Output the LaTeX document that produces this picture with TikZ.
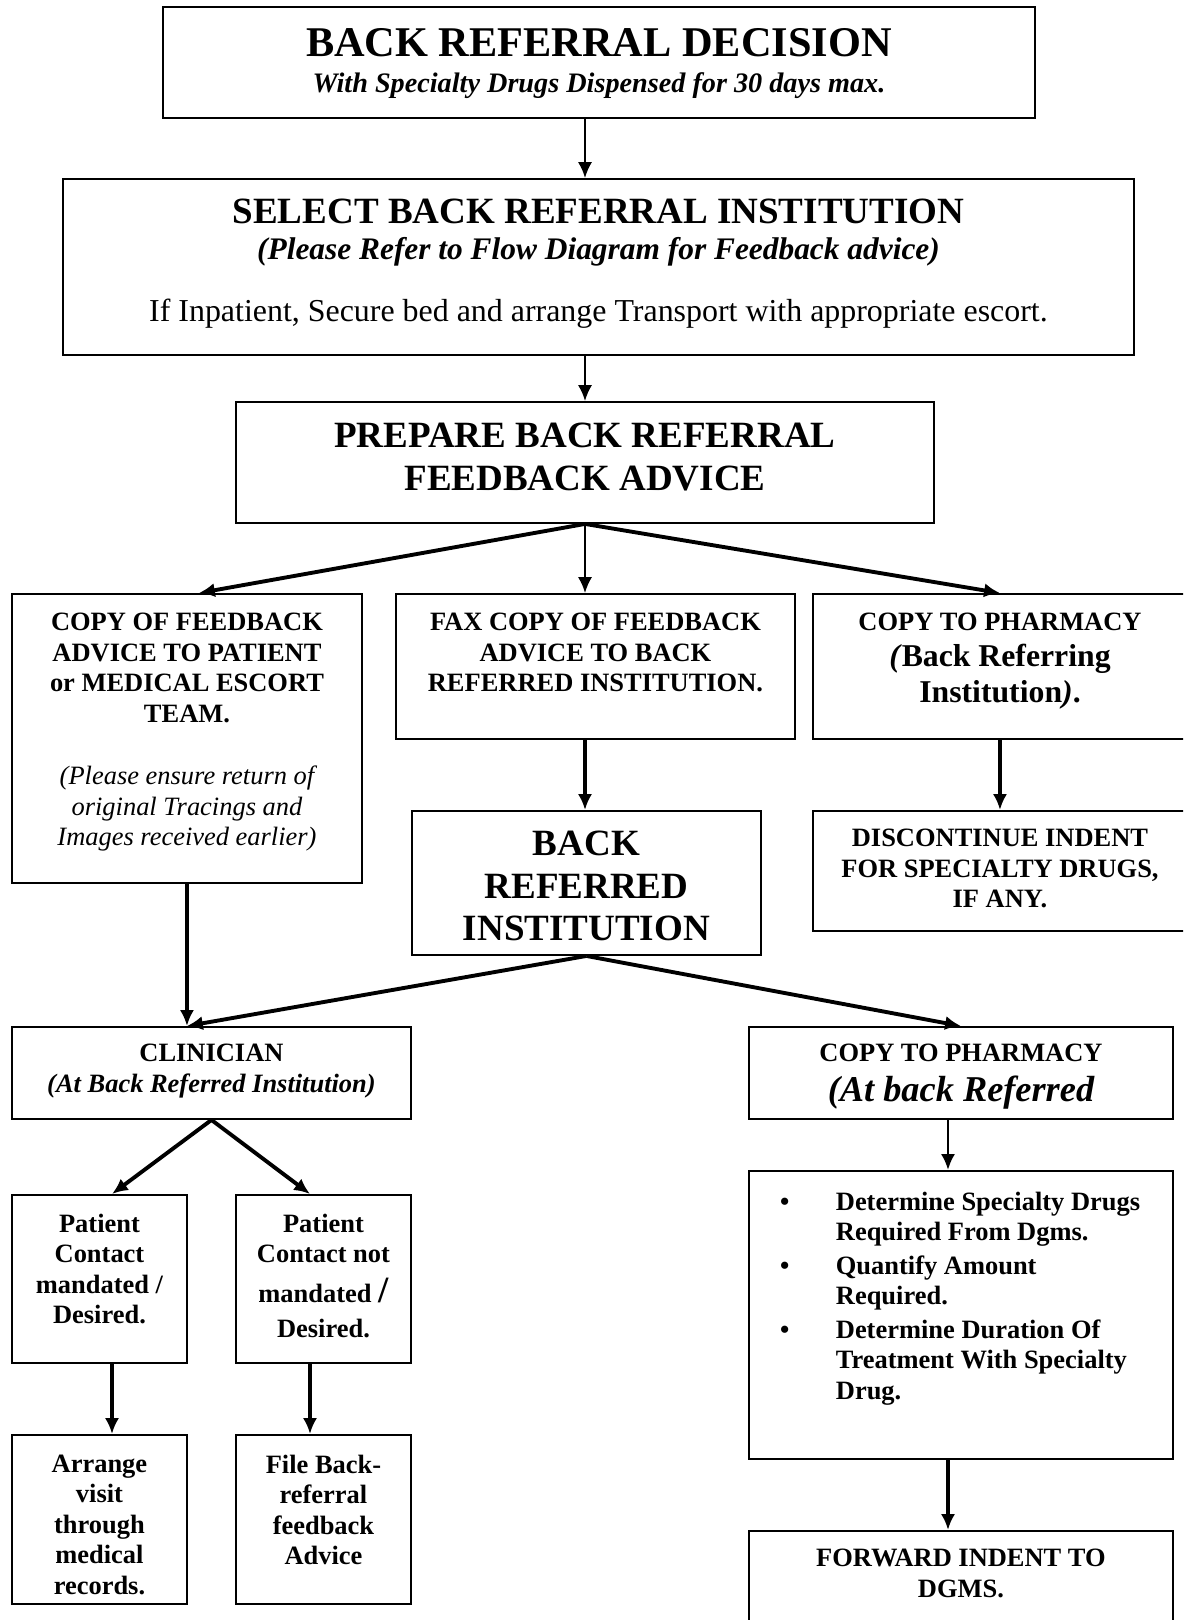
\documentclass[tikz,border=0pt]{standalone}
\usepackage{fontspec}
\setmainfont{Liberation Serif}
\usetikzlibrary{arrows.meta,calc}

\newlength\unitpx
\setlength\unitpx{0.567pt}
\newcommand{\cell}[4]{\parbox[c][#2\unitpx][t]{#1\unitpx}{\centering\vspace*{#3\unitpx}#4\par}}
\newcommand{\fsz}[2]{\fontsize{#1}{#2}\selectfont}
\newcommand{\bitem}{\noindent\llap{\textbullet\hspace{26.4pt}}}

\begin{document}
\begin{tikzpicture}
  [x=0.567pt,y=-0.567pt,
   box/.style={draw,line width=1.1pt,inner sep=0pt,anchor=north west},
   arr/.style={-{Latex[length=9pt,width=8pt]},line width=1.2pt},
   heavy/.style={arr,line width=2.2pt}]
  \useasboundingbox (0,0) rectangle (1183,1620);
  \clip (0,0) rectangle (1183,1620);

  \node[box] (decision) at (162,6) {\cell{872}{111}{22}{%
    {\fsz{24}{28}\bfseries BACK REFERRAL DECISION\par}
    {\fsz{16}{20.4}\bfseries\itshape With Specialty Drugs Dispensed for 30 days max.\par}}};
  \node[box] (select) at (62,178) {\cell{1071}{176}{20}{%
    {\fsz{21}{25}\bfseries SELECT BACK REFERRAL INSTITUTION\par}
    {\fsz{17.8}{20.4}\bfseries\itshape (Please Refer to Flow Diagram for Feedback advice)\par}
    {\fsz{18.1}{35}If Inpatient, Secure bed and arrange Transport with appropriate escort.\par}}};
  \node[box] (prepare) at (235,401) {\cell{698}{121}{21}{%
    {\fsz{21}{24.4}\bfseries PREPARE BACK REFERRAL\\FEEDBACK ADVICE\par}}};

  % three copies of the feedback advice
  \node[box] (copyfb) at (11,593) {\cell{350}{289}{19}{%
    {\fsz{15}{17.3}\bfseries COPY OF FEEDBACK\\ADVICE TO PATIENT\\or MEDICAL ESCORT\\TEAM.\par}
    \vspace{18.6pt}
    {\fsz{15}{17.1}\itshape (Please ensure return of\\original Tracings and\\Images received earlier)\par}}};
  \node[box] (fax) at (395,593) {\cell{399}{145}{19}{%
    {\fsz{15}{17.3}\bfseries FAX COPY OF FEEDBACK\\ADVICE TO BACK\\REFERRED INSTITUTION.\par}}};
  \node[box] (copyph) at (812,593) {\cell{374}{145}{19}{%
    {\fsz{15}{17.3}\bfseries COPY TO PHARMACY\par}
    {\fsz{18}{20.5}\bfseries\textit{(}Back Referring\\Institution\textit{)}.\par}}};

  \node[box] (backref) at (411,810) {\cell{349}{144}{20}{%
    {\fsz{21}{24.2}\bfseries BACK\\REFERRED\\INSTITUTION\par}}};
  \node[box] (discont) at (812,810) {\cell{374}{120}{18}{%
    {\fsz{15}{17.3}\bfseries DISCONTINUE INDENT\\FOR SPECIALTY DRUGS,\\IF ANY.\par}}};

  % at the back referred institution
  \node[box] (clin) at (11,1026) {\cell{399}{92}{17}{%
    {\fsz{15}{17.6}\bfseries CLINICIAN\\\itshape (At Back Referred Institution)\par}}};
  \node[box] (copyph2) at (748,1026) {\cell{424}{92}{17}{%
    {\fsz{15}{17.3}\bfseries COPY TO PHARMACY\par}
    {\fsz{20.6}{22.7}\bfseries\itshape (At back Referred\par}}};

  \node[box] (pat1) at (11,1194) {\cell{175}{168}{19}{%
    {\fsz{15}{17.3}\bfseries Patient\\Contact\\mandated /\\Desired.\par}}};
  \node[box] (pat2) at (235,1194) {\cell{175}{168}{19}{%
    {\fsz{15}{17.3}\bfseries Patient\\Contact not\par}
    {\fsz{15}{22.7}\bfseries mandated {\fontsize{21}{22}\selectfont/}\par}
    {\fsz{15}{19.8}\bfseries Desired.\par}}};
  \node[box] (arrange) at (11,1434) {\cell{175}{169}{20}{%
    {\fsz{15}{17.3}\bfseries Arrange\\visit\\through\\medical\\records.\par}}};
  \node[box] (file) at (235,1434) {\cell{175}{169}{20}{%
    {\fsz{15}{17.3}\bfseries File Back-\\referral\\feedback\\Advice\par}}};

  \node[box] (bullets) at (748,1170) {\cell{424}{288}{21}{%
    {\raggedright\leftskip=49.3pt\fsz{15}{17.3}\bfseries
     \bitem Determine Specialty Drugs\\Required From Dgms.\par
     \vspace{1.7pt}
     \bitem Quantify Amount\\Required.\par
     \vspace{1.7pt}
     \bitem Determine Duration Of\\Treatment With Specialty\\Drug.\par}}};
  \node[box] (forward) at (748,1530) {\cell{424}{130}{18}{%
    {\fsz{15}{17.3}\bfseries FORWARD INDENT TO\\DGMS.\par}}};

  % connectors
  \coordinate (spine) at (585,0);
  \coordinate (colA) at (112,0);
  \coordinate (colB) at (310,0);
  \coordinate (colC) at (948,0);

  \draw[arr] (decision.south -| spine) -- (select.north -| spine);
  \draw[arr] (select.south -| spine) -- (prepare.north -| spine);
  \draw[arr] (prepare.south -| spine) -- (fax.north -| spine);
  \draw[heavy] (prepare.south -| spine) -- ($(copyfb.north)+(12,0)$);
  \draw[heavy] (fax.south -| spine) -- (backref.north -| spine);
  \draw[heavy] (copyfb.south) -- (copyfb.south |- clin.north);
  \draw[heavy] (backref.south) -- (copyfb.south |- clin.north);
  \foreach \from/\to in {prepare.south/copyph.north, copyph.south/discont.north,
                         backref.south/copyph2.north}
    \draw[heavy] (\from) -- (\to);
  \draw[heavy] (clin.south) -- (pat1.north -| colA);
  \draw[heavy] (clin.south) -- (pat2.north -| colB);
  \draw[heavy] (pat1.south -| colA) -- (arrange.north -| colA);
  \draw[heavy] (pat2.south -| colB) -- (file.north -| colB);
  \draw[arr,line width=1.6pt] (copyph2.south -| colC) -- (bullets.north -| colC);
  \draw[heavy] (bullets.south -| colC) -- (forward.north -| colC);
\end{tikzpicture}
\end{document}
